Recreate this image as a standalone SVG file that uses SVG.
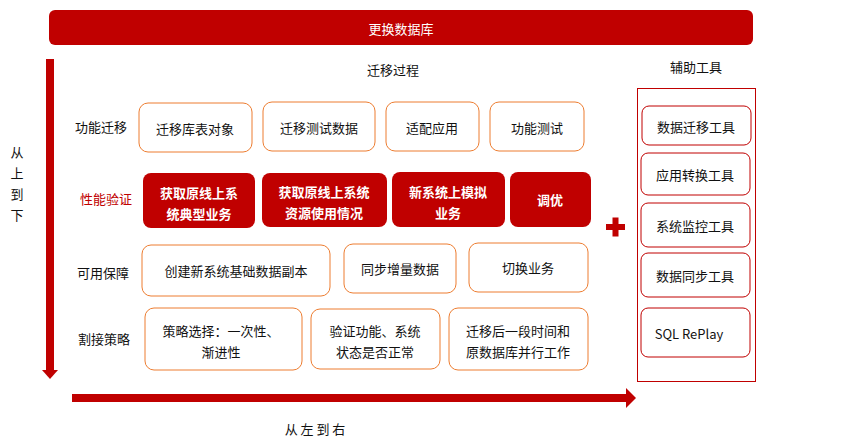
<svg xmlns="http://www.w3.org/2000/svg" width="857" height="447" viewBox="0 0 857 447">
<style>
text{font-family:"Noto Sans CJK SC","Liberation Sans",sans-serif;font-size:13px;fill:#111;text-anchor:middle;dominant-baseline:central}
.o{fill:#fff;stroke:#ED7D31;stroke-width:1}
.r{fill:#C00000;stroke:none}
.t{fill:#fff;stroke:#C00000;stroke-width:1}
.w{fill:#fff;font-weight:bold}
.lab{font-size:13px}
</style>
<rect width="857" height="447" fill="#fff"/>
<g id="title"><rect x="49" y="10" width="704" height="35" rx="6" class="r"/><text x="401" y="28" style="fill:#fff">更换数据库</text></g>
<text x="393" y="69">迁移过程</text>
<text x="696" y="66">辅助工具</text>
<g id="connectors">
<rect x="46" y="59" width="8" height="312" fill="#C00000"/>
<polygon points="42,370 58,370 50,379" fill="#C00000"/>
<rect x="72" y="394" width="555" height="8" fill="#C00000"/>
<polygon points="626,388 636,398 626,408" fill="#C00000"/>
</g>
<text x="17" y="151">从</text><text x="17" y="172">上</text><text x="17" y="193">到</text><text x="17" y="214">下</text>
<text x="315" y="428">从 左 到 右</text>
<text x="101" y="126">功能迁移</text>
<text x="106" y="198" style="fill:#C00000">性能验证</text>
<text x="103" y="272">可用保障</text>
<text x="104" y="338">割接策略</text>
<g id="f1"><rect x="139" y="103" width="113" height="49" rx="9" class="o"/><text x="195" y="128">迁移库表对象</text></g>
<g id="f2"><rect x="263" y="102" width="112" height="49" rx="9" class="o"/><text x="319" y="127">迁移测试数据</text></g>
<g id="f3"><rect x="386" y="102" width="93" height="49" rx="9" class="o"/><text x="432" y="127">适配应用</text></g>
<g id="f4"><rect x="490" y="102" width="94" height="49" rx="9" class="o"/><text x="537" y="127">功能测试</text></g>
<g id="p1"><rect x="143" y="173" width="112" height="55" rx="8" class="r"/><text x="199" y="192" class="w">获取原线上系</text><text x="199" y="213" class="w">统典型业务</text></g>
<g id="p2"><rect x="262" y="173" width="125" height="54" rx="8" class="r"/><text x="324" y="191" class="w">获取原线上系统</text><text x="324" y="212" class="w">资源使用情况</text></g>
<g id="p3"><rect x="392" y="172" width="113" height="55" rx="8" class="r"/><text x="448" y="191" class="w">新系统上模拟</text><text x="448" y="212" class="w">业务</text></g>
<g id="p4"><rect x="510" y="172" width="81" height="55" rx="8" class="r"/><text x="550" y="199" class="w">调优</text></g>
<g id="plus"><rect x="606" y="224" width="19" height="6" fill="#C00000"/><rect x="612.5" y="217.5" width="6" height="19" fill="#C00000"/></g>
<g id="a1"><rect x="142" y="245" width="188" height="51" rx="9" class="o"/><text x="236" y="270">创建新系统基础数据副本</text></g>
<g id="a2"><rect x="344" y="244" width="112" height="49" rx="9" class="o"/><text x="400" y="268">同步增量数据</text></g>
<g id="a3"><rect x="469" y="243" width="119" height="49" rx="9" class="o"/><text x="528" y="267">切换业务</text></g>
<g id="c1"><rect x="145" y="308" width="157" height="62" rx="9" class="o"/><text x="221" y="330">策略选择：一次性、</text><text x="221" y="351">渐进性</text></g>
<g id="c2"><rect x="311" y="309" width="129" height="60" rx="9" class="o"/><text x="375" y="330">验证功能、系统</text><text x="375" y="351">状态是否正常</text></g>
<g id="c3"><rect x="449" y="308" width="139" height="62" rx="9" class="o"/><text x="518" y="330">迁移后一段时间和</text><text x="518" y="351">原数据库并行工作</text></g>
<g id="tools"><rect x="637.5" y="88.5" width="118" height="293" fill="none" stroke="#C00000"/></g>
<g id="t1"><rect x="642" y="106" width="109" height="39" rx="7" class="t"/><text x="696" y="126">数据迁移工具</text></g>
<g id="t2"><rect x="641" y="153" width="109" height="42" rx="7" class="t"/><text x="695" y="174">应用转换工具</text></g>
<g id="t3"><rect x="641" y="203" width="109" height="44" rx="7" class="t"/><text x="695" y="225">系统监控工具</text></g>
<g id="t4"><rect x="641" y="253" width="109" height="44" rx="7" class="t"/><text x="695" y="275">数据同步工具</text></g>
<g id="t5"><rect x="641" y="308" width="109" height="49" rx="7" class="t"/><text x="689" y="333">SQL RePlay</text></g>
</svg>
